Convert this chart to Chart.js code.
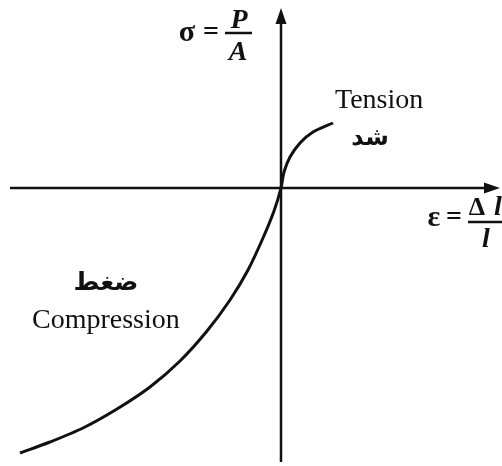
<!DOCTYPE html>
<html>
<head>
<meta charset="utf-8">
<script src="https://cdn.jsdelivr.net/npm/chart.js@4/dist/chart.umd.min.js"></script>
<style>
  html, body { margin: 0; padding: 0; background: #fff; }
  #wrap { width: 502px; height: 466px; }
</style>
</head>
<body>
<div id="wrap"><canvas id="chart"></canvas></div>
<script>
// strain / stress curve (arbitrary units)
const strain = [-261, -231, -198, -164, -131, -101, -74, -51, -33, -18, -7, 0, 3, 9, 19, 32, 52];
const stress = [-265, -254, -240, -221, -199, -173, -143, -112, -82, -50, -23, 0, 16, 31, 45, 56, 65];

// axis extents
const xRange = [-271, 219];
const yRange = [-274, 180];

const ink = '#111';
const serif = '"Liberation Serif", "DejaVu Serif", serif';
const arabic = '"DejaVu Sans", sans-serif';

// text labels, anchored in data units
const labels = [
  { text: 'Tension', x: 54, y: 80, font: '28px ' + serif, align: 'left', base: 'alphabetic' },
  { text: 'شد', x: 89, y: 43, font: 'bold 24px ' + arabic, align: 'center', base: 'alphabetic' },
  { text: 'ضغط', x: -175, y: -102, font: 'bold 25px ' + arabic, align: 'center', base: 'alphabetic' },
  { text: 'Compression', x: -249, y: -140, font: '28px ' + serif, align: 'left', base: 'alphabetic' },
  { text: 'σ', x: -94, y: 155, font: 'bold 30px ' + serif, align: 'center', base: 'middle' },
  { text: '=', x: -70, y: 155, font: 'bold 28px ' + serif, align: 'center', base: 'middle' },
  { text: 'P', x: -42, y: 160, font: 'italic bold 28px ' + serif, align: 'center', base: 'alphabetic' },
  { text: 'A', x: -43, y: 128, font: 'italic bold 28px ' + serif, align: 'center', base: 'alphabetic' },
  { text: 'ε', x: 153, y: -30, font: 'bold 30px ' + serif, align: 'center', base: 'middle' },
  { text: '=', x: 173, y: -30, font: 'bold 28px ' + serif, align: 'center', base: 'middle' },
  { text: 'Δ', x: 196, y: -27, font: 'bold 26px ' + serif, align: 'center', base: 'alphabetic' },
  { text: 'l', x: 213, y: -27, font: 'italic bold 28px ' + serif, align: 'left', base: 'alphabetic' },
  { text: 'l', x: 205, y: -59, font: 'italic bold 28px ' + serif, align: 'center', base: 'alphabetic' }
];
const fractionBars = [
  { x0: -56, x1: -29, y: 155 },
  { x0: 187, x1: 221, y: -34 }
];

const diagram = {
  id: 'diagram',
  beforeDatasetsDraw(chart) {
    const { ctx, scales: { x, y } } = chart;
    const ox = x.getPixelForValue(0), oy = y.getPixelForValue(0);
    const left = x.getPixelForValue(xRange[0]), right = x.getPixelForValue(xRange[1]);
    const top = y.getPixelForValue(yRange[1]), bottom = y.getPixelForValue(yRange[0]);
    ctx.save();
    ctx.strokeStyle = ink;
    ctx.fillStyle = ink;
    ctx.lineWidth = 2.5;
    ctx.beginPath();
    ctx.moveTo(left, oy); ctx.lineTo(right - 10, oy);
    ctx.moveTo(ox, bottom); ctx.lineTo(ox, top + 10);
    ctx.stroke();
    // arrow heads
    ctx.beginPath();
    ctx.moveTo(right, oy); ctx.lineTo(right - 16, oy - 5.5); ctx.lineTo(right - 16, oy + 5.5);
    ctx.closePath(); ctx.fill();
    ctx.beginPath();
    ctx.moveTo(ox, top); ctx.lineTo(ox - 5.5, top + 16); ctx.lineTo(ox + 5.5, top + 16);
    ctx.closePath(); ctx.fill();
    ctx.restore();
  },
  afterDatasetsDraw(chart) {
    const { ctx, scales: { x, y } } = chart;
    ctx.save();
    ctx.fillStyle = ink;
    ctx.strokeStyle = ink;
    labels.forEach(l => {
      ctx.font = l.font;
      ctx.textAlign = l.align;
      ctx.textBaseline = l.base;
      ctx.fillText(l.text, x.getPixelForValue(l.x), y.getPixelForValue(l.y));
    });
    ctx.lineWidth = 2.5;
    fractionBars.forEach(b => {
      ctx.beginPath();
      ctx.moveTo(x.getPixelForValue(b.x0), y.getPixelForValue(b.y));
      ctx.lineTo(x.getPixelForValue(b.x1), y.getPixelForValue(b.y));
      ctx.stroke();
    });
    ctx.restore();
  }
};

new Chart(document.getElementById('chart'), {
  type: 'scatter',
  data: {
    datasets: [{
      data: strain.map((v, i) => ({ x: v, y: stress[i] })),
      showLine: true,
      borderColor: ink,
      borderWidth: 3,
      pointRadius: 0,
      tension: 0.3
    }]
  },
  options: {
    responsive: true,
    maintainAspectRatio: false,
    animation: false,
    layout: { padding: 0 },
    plugins: { legend: { display: false }, tooltip: { enabled: false } },
    scales: {
      x: { type: 'linear', min: -281, max: 221, display: false },
      y: { type: 'linear', min: -278, max: 188, display: false }
    }
  },
  plugins: [diagram]
});
</script>
</body>
</html>
